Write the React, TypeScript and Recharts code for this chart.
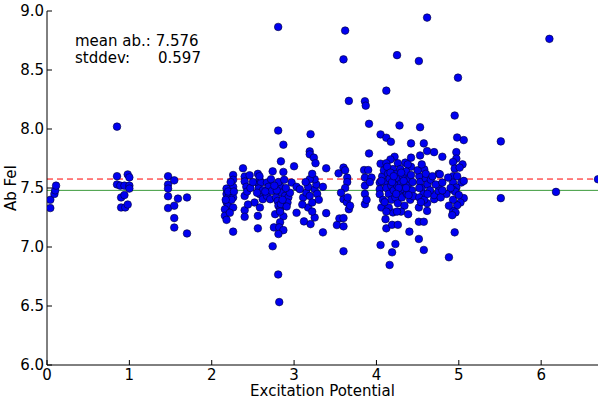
import { ScatterChart, Scatter, XAxis, YAxis, ReferenceLine } from "recharts";

// [excitation potential, abundance] pairs, grouped by EP band
const lowEp: [number, number][] = [
  [0.04, 7.33], [0.04, 7.4], [0.09, 7.45], [0.1, 7.48], [0.11, 7.52],
];

const ep1: [number, number][] = [
  [0.85, 8.02], [0.85, 7.6], [0.85, 7.53], [0.89, 7.52], [0.9, 7.42], [0.94, 7.44], [0.9, 7.335],
  [0.95, 7.335], [0.98, 7.36], [0.94, 7.52], [0.98, 7.615], [1.0, 7.59], [1.0, 7.52], [1.0, 7.495],
];

const ep15: [number, number][] = [
  [1.47, 7.6], [1.47, 7.53], [1.47, 7.495], [1.47, 7.43], [1.47, 7.33], [1.545, 7.565],
  [1.545, 7.35], [1.545, 7.245], [1.545, 7.165], [1.59, 7.41], [1.7, 7.42], [1.7, 7.115],
];

const ep2: [number, number][] = [
  [2.26, 7.61], [2.26, 7.57], [2.26, 7.51], [2.18, 7.495], [2.18, 7.45], [2.2, 7.42], [2.18, 7.38],
  [2.2, 7.35], [2.16, 7.32], [2.26, 7.42], [2.26, 7.335], [2.16, 7.265], [2.18, 7.23], [2.26, 7.13],
  [2.22, 7.29], [2.2, 7.47], [2.24, 7.4], [2.17, 7.4], [2.27, 7.47], [2.23, 7.55],
];

const ep25: [number, number][] = [
  [2.38, 7.667], [2.4, 7.597], [2.4, 7.555], [2.42, 7.51], [2.4, 7.433], [2.4, 7.312], [2.4, 7.256],
  [2.46, 7.608], [2.56, 7.62], [2.58, 7.574], [2.57, 7.53], [2.6, 7.546], [2.67, 7.546], [2.69, 7.51],
  [2.72, 7.574], [2.74, 7.641], [2.52, 7.377], [2.585, 7.335], [2.56, 7.264], [2.56, 7.158],
  [2.57, 7.495], [2.585, 7.447], [2.62, 7.405], [2.67, 7.433], [2.71, 7.405], [2.73, 7.475],
  [2.58, 7.6], [2.62, 7.48], [2.55, 7.46], [2.65, 7.47], [2.43, 7.47], [2.47, 7.5], [2.5, 7.55], [2.44, 7.36],
];

const ep28: [number, number][] = [
  [2.807, 8.865], [2.807, 7.987], [2.87, 7.867], [2.84, 7.726], [2.87, 7.636], [2.77, 7.278],
  [2.78, 7.42], [2.8, 7.39], [2.81, 7.35], [2.83, 7.32], [2.84, 7.363], [2.87, 7.26], [2.83, 7.21],
  [2.755, 7.166], [2.82, 7.166], [2.87, 7.143], [2.81, 7.11], [2.74, 7.006], [2.807, 6.767],
  [2.82, 6.533], [2.83, 7.517], [2.85, 7.46], [2.89, 7.433], [2.93, 7.42], [2.95, 7.46], [2.92, 7.377],
  [2.91, 7.343], [2.97, 7.546], [2.79, 7.48], [2.81, 7.55], [2.86, 7.4], [2.9, 7.5], [2.76, 7.52],
  [2.83, 7.3], [2.88, 7.57],
];

const ep3: [number, number][] = [
  [3.0, 7.684], [3.03, 7.51], [3.07, 7.49], [3.03, 7.29], [3.12, 7.217], [3.2, 7.194], [3.11, 7.42],
  [3.15, 7.46], [3.19, 7.433], [3.17, 7.335], [3.22, 7.377], [3.25, 7.25], [3.25, 7.49], [3.27, 7.53],
  [3.25, 7.574], [3.19, 7.574], [3.17, 7.51], [3.2, 7.956], [3.19, 7.81], [3.19, 7.785], [3.24, 7.757],
  [3.26, 7.71], [3.35, 7.51], [3.39, 7.667], [3.39, 7.287], [3.35, 7.124], [3.22, 7.62], [3.28, 7.45],
  [3.14, 7.55], [3.22, 7.3], [3.1, 7.36], [3.3, 7.4],
];

const ep36: [number, number][] = [
  [3.665, 8.238], [3.62, 8.834], [3.6, 8.59], [3.54, 7.624], [3.6, 7.673], [3.62, 7.65], [3.6, 7.405],
  [3.64, 7.38], [3.55, 7.242], [3.52, 7.186], [3.6, 7.175], [3.6, 6.964], [3.645, 7.588], [3.645, 7.55],
  [3.65, 7.42], [3.665, 7.32], [3.68, 7.35], [3.6, 7.245], [3.62, 7.5], [3.57, 7.46],
];

const ep39: [number, number][] = [
  [3.86, 8.235], [3.87, 8.198], [3.91, 8.044], [3.91, 7.793], [3.85, 7.652], [3.9, 7.652], [3.86, 7.588],
  [3.86, 7.52], [3.86, 7.45], [3.86, 7.363], [3.94, 7.588], [3.88, 7.4], [3.92, 7.55],
];

const ep42: [number, number][] = [
  [4.05, 7.954], [4.12, 7.926], [4.175, 7.892], [4.28, 8.03], [4.42, 7.878], [4.12, 8.325], [4.25, 8.626],
  [4.05, 7.706], [4.22, 7.765], [4.17, 7.742], [4.12, 7.71], [4.26, 7.71], [4.35, 7.715], [4.42, 7.757],
  [4.42, 7.68], [4.38, 7.7], [4.04, 7.546], [4.04, 7.49], [4.04, 7.447], [4.06, 7.335], [4.11, 7.236],
  [4.12, 7.158], [4.05, 7.017], [4.19, 7.188], [4.26, 7.188], [4.23, 7.025], [4.19, 6.955], [4.16, 6.848],
  [4.385, 7.278], [4.4, 7.13], [4.2, 7.293], [4.15, 7.335],
  [4.07, 7.6], [4.09, 7.65], [4.1, 7.55], [4.12, 7.5], [4.14, 7.62], [4.15, 7.45], [4.16, 7.58], [4.18, 7.52],
  [4.18, 7.4], [4.2, 7.66], [4.21, 7.48], [4.22, 7.57], [4.23, 7.42], [4.24, 7.62], [4.25, 7.52], [4.26, 7.37],
  [4.27, 7.58], [4.28, 7.46], [4.29, 7.66], [4.3, 7.54], [4.31, 7.42], [4.32, 7.6], [4.33, 7.49], [4.34, 7.35],
  [4.35, 7.56], [4.36, 7.64], [4.37, 7.45], [4.38, 7.52], [4.4, 7.58], [4.41, 7.4], [4.42, 7.61], [4.43, 7.48],
  [4.44, 7.55], [4.45, 7.43], [4.08, 7.4], [4.1, 7.38], [4.13, 7.68], [4.17, 7.63], [4.19, 7.55], [4.21, 7.6],
  [4.27, 7.5], [4.3, 7.63], [4.33, 7.56], [4.36, 7.5], [4.39, 7.44], [4.12, 7.3], [4.3, 7.3], [4.25, 7.3],
  [4.06, 7.56], [4.24, 7.45],
];

const ep46: [number, number][] = [
  [4.53, 8.015], [4.575, 7.878], [4.615, 8.944], [4.515, 8.576], [4.615, 7.813], [4.7, 7.804],
  [4.53, 7.776], [4.58, 7.658], [4.755, 7.62], [4.515, 7.068], [4.575, 6.975], [4.515, 7.214],
  [4.575, 7.214], [4.615, 7.306], [4.615, 7.371], [4.515, 7.335], [4.7, 7.405], [4.7, 7.44],
  [4.755, 7.475], [4.755, 7.52], [4.52, 7.6], [4.53, 7.55], [4.55, 7.5], [4.57, 7.45], [4.52, 7.42],
  [4.6, 7.58], [4.62, 7.53], [4.58, 7.4], [4.65, 7.48], [4.5, 7.65], [4.55, 7.7], [4.6, 7.62],
  [4.66, 7.57], [4.72, 7.53], [4.54, 7.38], [4.62, 7.45], [4.68, 7.6], [4.52, 7.5],
];

const ep49: [number, number][] = [
  [4.8, 7.765], [4.97, 7.804], [4.97, 7.749], [4.93, 7.72], [5.045, 7.7], [4.95, 7.664], [5.01, 7.673],
  [4.93, 7.6], [4.77, 7.616], [4.8, 7.546], [4.93, 7.546], [5.03, 7.546], [5.06, 7.56], [4.97, 7.504],
  [4.93, 7.484], [4.96, 7.467], [5.06, 7.414], [5.02, 7.377], [4.98, 7.354], [4.93, 7.306], [4.96, 7.293],
  [4.92, 7.27], [4.95, 7.124], [4.88, 6.913], [4.99, 8.435], [4.95, 8.114], [4.98, 7.928], [5.06, 7.906],
  [4.87, 7.588], [4.9, 7.5], [4.85, 7.45], [4.93, 7.4], [4.88, 7.35], [4.78, 7.42], [4.8, 7.48],
  [4.98, 7.6], [5.0, 7.44],
];

const highEp: [number, number][] = [
  [5.51, 7.895], [5.51, 7.414], [6.1, 8.764], [6.18, 7.467], [6.69, 7.574],
];

const xTicks = [0, 1, 2, 3, 4, 5, 6];
const yTicks = [6.0, 6.5, 7.0, 7.5, 8.0, 8.5, 9.0];
const meanAb = 7.576;
const stddev = 0.597;
const median = 7.48;

const points = [lowEp, ep1, ep15, ep2, ep25, ep28, ep3, ep36, ep39, ep42, ep46, ep49, highEp]
  .flat()
  .map(([ep, ab]) => ({ ep, ab }));

const font = "DejaVu Sans";
const tickStyle = { fontSize: 15, fill: "#000", fontFamily: font };

function Dot(props: any) {
  return <circle cx={props.cx} cy={props.cy} r={3.8} fill="#0000f0" stroke="#000033" strokeWidth={0.6} />;
}

export default function App() {
  return (
    <div style={{ position: "absolute", left: 0, top: 0, width: 600, height: 399, background: "#fff" }}>
      <ScatterChart width={600} height={399} margin={{ top: 11, right: 2, bottom: 0, left: 0 }}>
        <XAxis dataKey="ep" type="number" domain={[0, 6.69]} ticks={xTicks} allowDataOverflow
          height={34} tickSize={-5} tickMargin={9} tick={tickStyle}
          axisLine={{ stroke: "#000" }} tickLine={{ stroke: "#000" }}
          label={{ value: "Excitation Potential", position: "insideBottom", offset: 3,
            style: { fontSize: 15, fill: "#000", fontFamily: font } }} />
        <XAxis xAxisId="top" orientation="top" dataKey="ep" type="number" domain={[0, 6.69]} ticks={xTicks}
          allowDataOverflow height={0} tickSize={-5} tick={false}
          axisLine={{ stroke: "#000" }} tickLine={{ stroke: "#000" }} />
        <YAxis dataKey="ab" type="number" domain={[6, 9]} ticks={yTicks} allowDataOverflow
          width={47} tickSize={-5} tickMargin={8} tick={tickStyle} tickFormatter={(v: number) => v.toFixed(1)}
          axisLine={{ stroke: "#000" }} tickLine={{ stroke: "#000" }}
          label={() => (
            <text x={11} y={188} transform="rotate(-90 11 188)" textAnchor="middle" dominantBaseline="central"
              fontSize={15} fontFamily={font} fill="#000">Ab FeI</text>
          )} />
        <YAxis yAxisId="right" orientation="right" dataKey="ab" type="number" domain={[6, 9]} ticks={yTicks}
          allowDataOverflow width={0} tickSize={-5} tick={false}
          axisLine={{ stroke: "#000" }} tickLine={{ stroke: "#000" }} />
        <ReferenceLine y={median} stroke="#3a9a3a" strokeWidth={1} />
        <ReferenceLine y={meanAb} stroke="#ff0000" strokeWidth={1} strokeDasharray="6 4" />
        <Scatter data={points} shape={Dot} isAnimationActive={false} />
      </ScatterChart>
      <svg width={600} height={399} style={{ position: "absolute", left: 0, top: 0, pointerEvents: "none" }}>
        <text x={75} y={46} fontSize={15} fontFamily={font} fill="#000">mean ab.: {meanAb.toFixed(3)}</text>
        <text x={75} y={63} fontSize={15} fontFamily={font} fill="#000">stddev:</text>
        <text x={158} y={63} fontSize={15} fontFamily={font} fill="#000">{stddev.toFixed(3)}</text>
      </svg>
    </div>
  );
}
